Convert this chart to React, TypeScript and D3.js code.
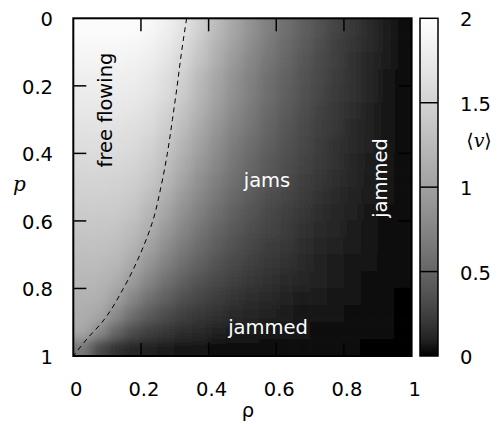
import React from "react";
import * as d3 from "d3";

// density (x) and slowdown probability (y) cell centres, cell size 0.05
const rhoCenters = [0.025, 0.075, 0.125, 0.175, 0.225, 0.275, 0.325, 0.375, 0.425, 0.475, 0.525, 0.575, 0.625, 0.675, 0.725, 0.775, 0.825, 0.875, 0.925, 0.975];
const pCenters = [0.025, 0.075, 0.125, 0.175, 0.225, 0.275, 0.325, 0.375, 0.425, 0.475, 0.525, 0.575, 0.625, 0.675, 0.725, 0.775, 0.825, 0.875, 0.925, 0.975];
const cellSize = 0.05;

// mean velocity <v>, one row per p value (top to bottom), one entry per rho value
const velocity = [
  [1.97, 1.97, 1.97, 1.96, 1.92, 1.83, 1.67, 1.47, 1.25, 1.05, 0.87, 0.71, 0.58, 0.47, 0.37, 0.28, 0.21, 0.14, 0.08, 0.02],
  [1.92, 1.92, 1.92, 1.91, 1.86, 1.76, 1.61, 1.40, 1.18, 0.99, 0.82, 0.67, 0.55, 0.44, 0.35, 0.26, 0.19, 0.13, 0.07, 0.02],
  [1.87, 1.87, 1.87, 1.85, 1.80, 1.70, 1.53, 1.34, 1.12, 0.93, 0.77, 0.63, 0.51, 0.41, 0.32, 0.25, 0.18, 0.12, 0.07, 0.02],
  [1.82, 1.82, 1.82, 1.80, 1.74, 1.63, 1.46, 1.24, 1.05, 0.87, 0.72, 0.58, 0.48, 0.38, 0.30, 0.23, 0.17, 0.11, 0.06, 0.02],
  [1.77, 1.77, 1.77, 1.75, 1.70, 1.59, 1.41, 1.21, 1.02, 0.84, 0.70, 0.57, 0.46, 0.37, 0.29, 0.22, 0.17, 0.12, 0.06, 0.02],
  [1.72, 1.72, 1.72, 1.70, 1.64, 1.51, 1.34, 1.15, 0.96, 0.79, 0.65, 0.53, 0.43, 0.35, 0.27, 0.21, 0.15, 0.10, 0.06, 0.02],
  [1.67, 1.67, 1.67, 1.64, 1.58, 1.44, 1.27, 1.07, 0.89, 0.74, 0.61, 0.50, 0.40, 0.32, 0.26, 0.20, 0.14, 0.10, 0.05, 0.02],
  [1.62, 1.62, 1.62, 1.59, 1.51, 1.37, 1.19, 1.00, 0.83, 0.68, 0.56, 0.46, 0.37, 0.30, 0.24, 0.18, 0.13, 0.09, 0.05, 0.02],
  [1.57, 1.57, 1.57, 1.53, 1.45, 1.30, 1.11, 0.93, 0.77, 0.63, 0.52, 0.42, 0.35, 0.28, 0.22, 0.17, 0.12, 0.08, 0.05, 0.01],
  [1.52, 1.52, 1.51, 1.47, 1.38, 1.22, 1.03, 0.85, 0.70, 0.58, 0.47, 0.39, 0.32, 0.25, 0.20, 0.15, 0.11, 0.08, 0.04, 0.01],
  [1.47, 1.47, 1.46, 1.41, 1.30, 1.13, 0.94, 0.78, 0.64, 0.52, 0.43, 0.35, 0.29, 0.23, 0.18, 0.14, 0.10, 0.07, 0.04, 0.01],
  [1.42, 1.42, 1.41, 1.35, 1.21, 1.03, 0.85, 0.70, 0.57, 0.47, 0.38, 0.31, 0.26, 0.20, 0.16, 0.12, 0.09, 0.06, 0.03, 0.01],
  [1.37, 1.37, 1.35, 1.27, 1.12, 0.93, 0.76, 0.62, 0.50, 0.41, 0.34, 0.28, 0.23, 0.18, 0.14, 0.11, 0.08, 0.05, 0.03, 0.01],
  [1.32, 1.32, 1.29, 1.19, 1.01, 0.82, 0.66, 0.54, 0.44, 0.36, 0.29, 0.24, 0.20, 0.16, 0.12, 0.09, 0.07, 0.05, 0.03, 0.01],
  [1.27, 1.27, 1.22, 1.08, 0.88, 0.71, 0.57, 0.46, 0.37, 0.30, 0.25, 0.20, 0.17, 0.13, 0.10, 0.08, 0.06, 0.04, 0.02, 0.01],
  [1.22, 1.21, 1.13, 0.95, 0.75, 0.59, 0.47, 0.37, 0.30, 0.25, 0.20, 0.17, 0.14, 0.11, 0.09, 0.07, 0.05, 0.03, 0.02, 0.01],
  [1.17, 1.15, 1.00, 0.78, 0.59, 0.46, 0.36, 0.29, 0.24, 0.19, 0.16, 0.13, 0.10, 0.08, 0.07, 0.05, 0.04, 0.03, 0.01, 0.00],
  [1.12, 1.06, 0.81, 0.58, 0.43, 0.33, 0.26, 0.21, 0.17, 0.14, 0.11, 0.09, 0.08, 0.06, 0.05, 0.04, 0.03, 0.02, 0.01, 0.00],
  [1.07, 0.83, 0.52, 0.35, 0.26, 0.20, 0.16, 0.13, 0.10, 0.08, 0.07, 0.06, 0.05, 0.04, 0.03, 0.02, 0.02, 0.01, 0.01, 0.00],
  [0.65, 0.31, 0.18, 0.12, 0.09, 0.07, 0.05, 0.04, 0.03, 0.03, 0.02, 0.02, 0.02, 0.01, 0.01, 0.01, 0.01, 0.00, 0.00, 0.00],
];

// dashed boundary between free flow and jams
const boundaryP = [0, 0.1, 0.2, 0.3, 0.4, 0.5, 0.6, 0.7, 0.8, 0.9, 0.95, 1.0];
const boundaryRho = [0.335, 0.32, 0.307, 0.293, 0.278, 0.259, 0.235, 0.197, 0.148, 0.085, 0.04, 0.0];

const xTicks = [0, 0.2, 0.4, 0.6, 0.8, 1];
const xTickLabels = ["0", "0.2", "0.4", "0.6", "0.8", "1"];
const yTicks = [0, 0.2, 0.4, 0.6, 0.8, 1];
const yTickLabels = ["0", "0.2", "0.4", "0.6", "0.8", "1"];
const cbTicks = [0, 0.5, 1, 1.5, 2];
const cbTickLabels = ["0", "0.5", "1", "1.5", "2"];

const FONT = "'DejaVu Sans', Verdana, sans-serif";
const FS = 19.5;

export default function App() {
  const W = 500, H = 424;
  const x = d3.scaleLinear().domain([0, 1]).range([73.3, 411.6]);
  const y = d3.scaleLinear().domain([0, 1]).range([18.3, 356]);
  const grayScale = d3.scalePow().exponent(2 / 3).domain([0, 2]).range([0, 255]).clamp(true);
  const color = (v: number) => {
    const g = Math.round(grayScale(v));
    return `rgb(${g},${g},${g})`;
  };
  const cbY = d3.scaleLinear().domain([0, 2]).range([356, 18.3]);
  const cbX0 = 420, cbX1 = 438;

  const [xa, xb] = x.range();
  const [ya, yb] = y.range();
  const ext = 24;

  const cells: JSX.Element[] = [];
  velocity.forEach((row, i) => {
    row.forEach((v, j) => {
      let l = x(rhoCenters[j] - cellSize / 2);
      let r = x(rhoCenters[j] + cellSize / 2);
      let t = y(pCenters[i] - cellSize / 2);
      let b = y(pCenters[i] + cellSize / 2);
      if (j === 0) l -= ext;
      if (j === row.length - 1) r += ext;
      if (i === 0) t -= ext;
      if (i === velocity.length - 1) b += ext;
      cells.push(
        <rect key={`${i}-${j}`} x={l} y={t} width={r - l + 0.6} height={b - t + 0.6} fill={color(v)} />
      );
    });
  });

  const boundary = d3
    .line<number>()
    .x((_, k) => x(boundaryRho[k]))
    .y((p) => y(p))
    .curve(d3.curveMonotoneY)(boundaryP) as string;

  const gradStops = d3.range(0, 2.0001, 0.1);
  const tickLen = 13;
  const inner = [0.2, 0.4, 0.6, 0.8];

  return (
    <svg width={W} height={H} style={{ position: "absolute", left: 0, top: 0, background: "#fff" }} fontFamily={FONT}>
      <defs>
        <clipPath id="plotClip">
          <rect x={xa} y={ya} width={xb - xa} height={yb - ya} />
        </clipPath>
        <filter id="soft" x="-10%" y="-10%" width="120%" height="120%">
          <feGaussianBlur stdDeviation={5.5} />
        </filter>
        <linearGradient id="cbGrad" x1="0" y1="1" x2="0" y2="0">
          {gradStops.map((v) => (
            <stop key={v} offset={v / 2} stopColor={color(v)} />
          ))}
        </linearGradient>
      </defs>

      {/* heatmap */}
      <g clipPath="url(#plotClip)">
        <g filter="url(#soft)">{cells}</g>
      </g>

      {/* boundary */}
      <g clipPath="url(#plotClip)">
        <path d={boundary} fill="none" stroke="#000" strokeWidth={1} strokeDasharray="5,4" />
      </g>

      {/* region labels */}
      <text transform="translate(112,110) rotate(-90)" textAnchor="middle" fontSize={FS} fill="#000">free flowing</text>
      <text x={267} y={187} textAnchor="middle" fontSize={FS} fill="#fff">jams</text>
      <text transform="translate(387,178) rotate(-90)" textAnchor="middle" fontSize={FS} fill="#fff">jammed</text>
      <text x={268} y={334} textAnchor="middle" fontSize={FS} fill="#fff">jammed</text>

      {/* ticks */}
      <g stroke="#000" strokeWidth={1.5}>
        {inner.map((t) => (
          <g key={t}>
            <line x1={x(t)} x2={x(t)} y1={yb} y2={yb - tickLen} />
            <line x1={x(t)} x2={x(t)} y1={ya} y2={ya + tickLen} />
            <line x1={xa} x2={xa + tickLen} y1={y(t)} y2={y(t)} />
            <line x1={xb} x2={xb - tickLen} y1={y(t)} y2={y(t)} />
          </g>
        ))}
      </g>
      {/* border */}
      <rect x={xa} y={ya} width={xb - xa} height={yb - ya} fill="none" stroke="#000" strokeWidth={2} />

      {/* tick labels */}
      {xTicks.map((t, k) => (
        <text key={t} x={x(t) + 3} y={396} textAnchor="middle" fontSize={FS}>{xTickLabels[k]}</text>
      ))}
      {yTicks.map((t, k) => (
        <text key={t} x={53} y={y(t) + 8} textAnchor="end" fontSize={FS}>{yTickLabels[k]}</text>
      ))}

      {/* axis titles */}
      <text x={248} y={417} textAnchor="middle" fontSize={FS}>ρ</text>
      <text x={13} y={191} fontSize={20} fontStyle="italic" fontFamily="'DejaVu Serif', serif">p</text>

      {/* colorbar */}
      <rect x={cbX0} y={cbY(2)} width={cbX1 - cbX0} height={cbY(0) - cbY(2)} fill="url(#cbGrad)" />
      <g stroke="#000" strokeWidth={1.5}>
        {[0.5, 1, 1.5].map((t) => (
          <line key={t} x1={cbX0} x2={cbX1} y1={cbY(t)} y2={cbY(t)} />
        ))}
      </g>
      <rect x={cbX0} y={cbY(2)} width={cbX1 - cbX0} height={cbY(0) - cbY(2)} fill="none" stroke="#000" strokeWidth={1.5} />
      {cbTicks.map((t, k) => (
        <text key={t} x={460} y={cbY(t) + 8} fontSize={FS}>{cbTickLabels[k]}</text>
      ))}
      <text x={479} y={147} textAnchor="middle" fontSize={19} fontFamily="'DejaVu Serif', serif">
        ⟨<tspan fontStyle="italic">v</tspan>⟩
      </text>
    </svg>
  );
}
